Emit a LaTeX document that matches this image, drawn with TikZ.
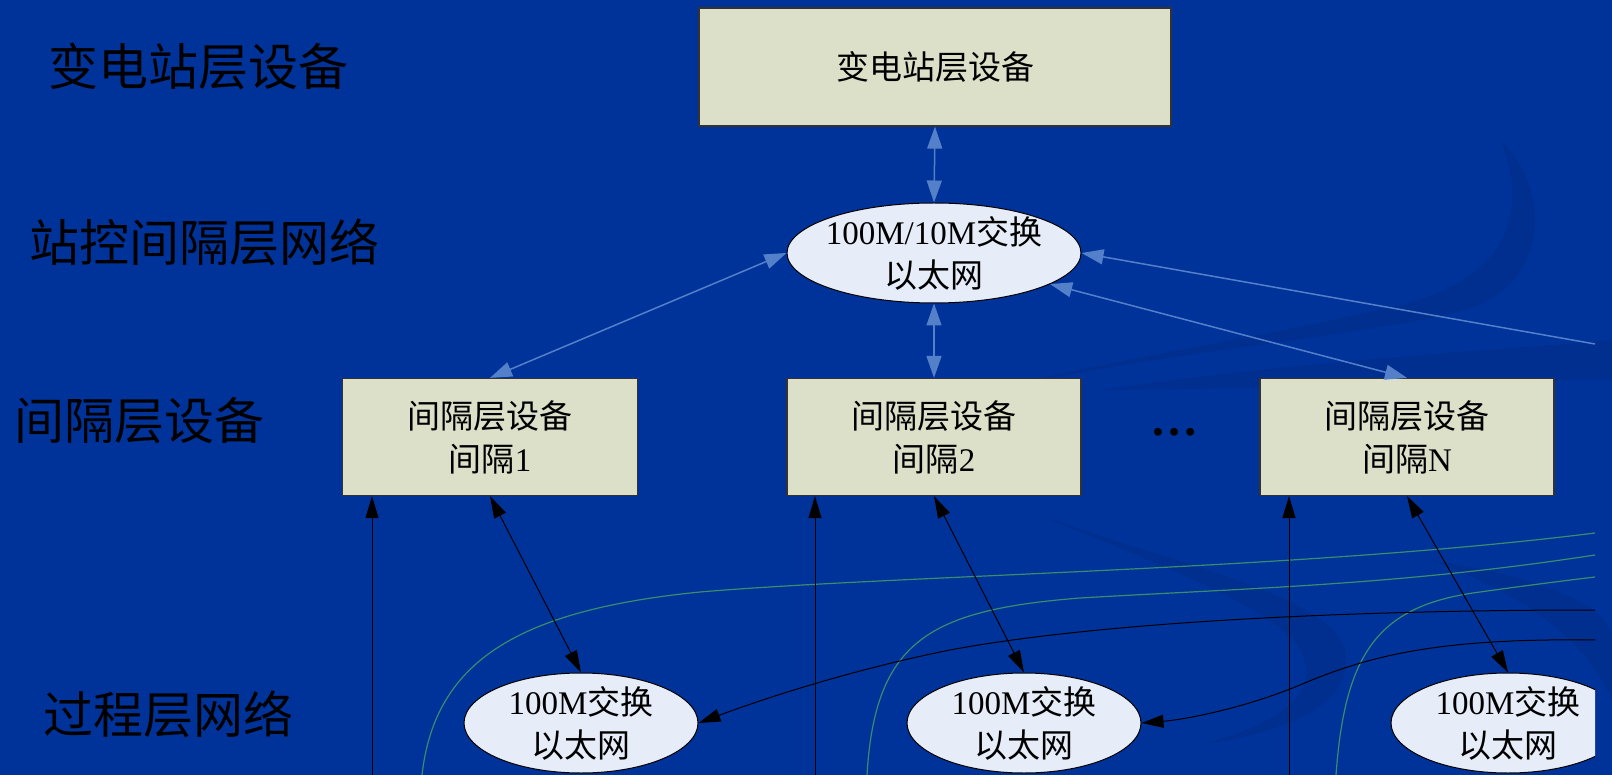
\documentclass[tikz,border=0pt]{standalone}
\usepackage{fontspec}
\setmainfont{Liberation Serif}
\newfontfamily\cjk{Noto Sans CJK SC}
\usetikzlibrary{shapes.geometric,arrows.meta}
\definecolor{bgblue}{RGB}{0,51,153}
\definecolor{bgdark}{RGB}{0,42,130}
\definecolor{boxfill}{RGB}{221,224,201}
\definecolor{ellfill}{RGB}{230,237,248}
\definecolor{linkblue}{RGB}{84,128,202}
\definecolor{decogreen}{RGB}{58,140,110}
\tikzset{
  layerlabel/.style={anchor=west, inner sep=0pt, text=black, font=\cjk\fontsize{50}{52}\selectfont},
  devbox/.style={draw=black!80, line width=1.2pt, fill=boxfill, align=center, inner sep=0pt,
    font=\fontsize{33}{43}\selectfont},
  switchell/.style={ellipse, draw=black, line width=1pt, fill=ellfill, inner sep=-5pt,
    minimum height=100pt, align=center, font=\fontsize{33}{43}\selectfont},
  bluelink/.style={draw=linkblue, line width=1.5pt,
    {Triangle[length=22pt,width=15pt,fill=linkblue]}-{Triangle[length=22pt,width=15pt,fill=linkblue]}},
  bluein/.style={draw=linkblue, line width=1.5pt, -{Triangle[length=22pt,width=15pt,fill=linkblue]}},
  blkboth/.style={draw=black, line width=1pt, {Triangle[length=22pt,width=13pt]}-{Triangle[length=22pt,width=13pt]}},
  blkin/.style={draw=black, line width=1pt, -{Triangle[length=22pt,width=13pt]}},
  decoline/.style={draw=decogreen, line width=1.2pt},
  swoosh/.style={fill=bgdark, opacity=0.35},
}
\begin{document}
\begin{tikzpicture}[x=1pt,y=-1pt]
\useasboundingbox (0,0) rectangle (1612,775);
% background
\fill[bgblue] (0,0) rectangle (1612,775);
\fill[swoosh] (950,400) .. controls (1150,350) and (1400,335) .. (1480,305)
  .. controls (1555,270) and (1545,180) .. (1500,140)
  .. controls (1525,200) and (1520,275) .. (1400,305)
  .. controls (1250,340) and (1100,360) .. (950,400) -- cycle;
\fill[swoosh] (1000,500) .. controls (1150,560) and (1330,590) .. (1345,650)
  .. controls (1355,700) and (1300,730) .. (1200,745)
  .. controls (1290,720) and (1320,690) .. (1300,650)
  .. controls (1280,610) and (1150,560) .. (1000,500) -- cycle;
\fill[swoosh] (1100,390) .. controls (1300,360) and (1500,350) .. (1612,340)
  -- (1612,380) .. controls (1450,380) and (1250,390) .. (1100,390) -- cycle;
\fill[swoosh] (1430,560) .. controls (1560,580) and (1612,610) .. (1612,640)
  -- (1612,700) .. controls (1590,650) and (1540,600) .. (1430,560) -- cycle;

% decorative curves
\draw[decoline] (422,775) .. controls (435,660) and (520,610) .. (700,592)
  .. controls (900,575) and (1300,570) .. (1595,533);
\draw[decoline] (867,775) .. controls (875,640) and (930,610) .. (1080,598)
  .. controls (1250,588) and (1400,585) .. (1595,555);
\draw[decoline] (1336,775) .. controls (1345,650) and (1380,605) .. (1480,592)
  .. controls (1530,585) and (1570,580) .. (1595,577);

% layer labels
\node[layerlabel] (l1) at (48,67) {变电站层设备};
\node[layerlabel] (l2) at (29,242) {站控间隔层网络};
\node[layerlabel] (l3) at (14,421) {间隔层设备};
\node[layerlabel] (l4) at (43,714) {过程层网络};

\begin{scope}
\clip (0,0) rectangle (1595,775);
% nodes
\node[devbox, minimum width=472pt, minimum height=118pt] (top) at (935,67) {{\cjk 变电站层设备}};
\node[switchell, minimum width=294pt] (sw) at (934,253) {100M/10M{\cjk 交换}\\{\cjk 以太网}};
\node[devbox, minimum width=295pt, minimum height=117pt] (b1) at (490,437) {{\cjk 间隔层设备}\\{\cjk 间隔}1};
\node[devbox, minimum width=294pt, minimum height=117pt] (b2) at (934,437) {{\cjk 间隔层设备}\\{\cjk 间隔}2};
\node[devbox, minimum width=294pt, minimum height=117pt] (bn) at (1407,437) {{\cjk 间隔层设备}\\{\cjk 间隔}N};
\node[font=\bfseries\fontsize{48}{48}\selectfont, inner sep=0pt] (dots) at (1174,432) {\dots};
\node[switchell, minimum width=234pt] (e1) at (581,723) {100M{\cjk 交换}\\{\cjk 以太网}};
\node[switchell, minimum width=234pt] (e2) at (1024,723) {100M{\cjk 交换}\\{\cjk 以太网}};
\node[switchell, minimum width=234pt] (en) at (1508,723) {100M{\cjk 交换}\\{\cjk 以太网}};

\coordinate (rin) at (1595,344);
\coordinate (r1) at (1595,610);
\coordinate (r2) at (1595,640);
\coordinate (v1) at (372,775);
\coordinate (v2) at (815,775);
\coordinate (vn) at (1289,775);

% station-bus links
\draw[bluelink] (top.south) -- (sw.north);
\draw[bluelink] (sw.west) -- (b1.north);
\draw[bluelink] (sw.south) -- (b2.north);
\draw[bluelink] (sw.-15) -- (bn.north);
\draw[bluein] (rin) -- (sw.east);

% process-bus links
\draw[blkin] (v1) -- (v1 |- b1.south);
\draw[blkin] (v2) -- (v2 |- b2.south);
\draw[blkin] (vn) -- (vn |- bn.south);
\draw[blkboth] (b1.south) -- (e1.north);
\draw[blkboth] (b2.south) -- (e2.north);
\draw[blkboth] (bn.south) -- (en.north);
\draw[blkin] (r1) .. controls (1350,610) and (1100,622) .. (950,650)
  .. controls (850,670) and (760,700) .. (e1.east);
\draw[blkin] (r2) .. controls (1440,638) and (1370,655) .. (1300,685)
  .. controls (1240,710) and (1180,720) .. (e2.east);
\end{scope}
\end{tikzpicture}
\end{document}
